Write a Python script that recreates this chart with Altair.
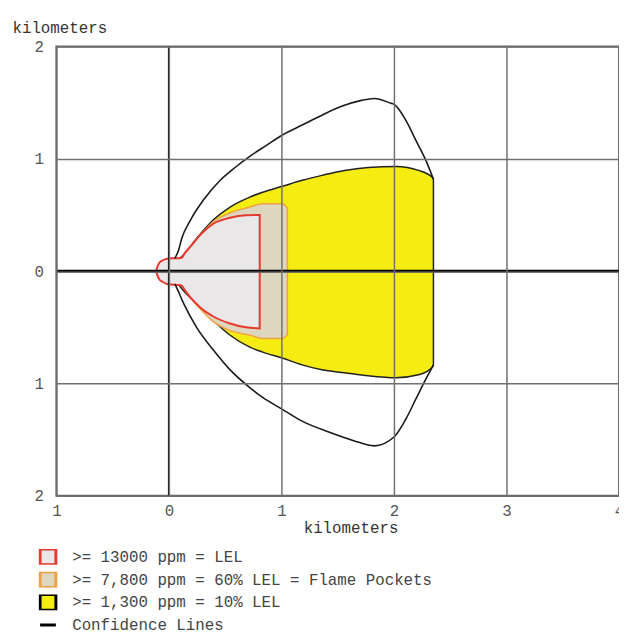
import altair as alt
import pandas as pd

FONT = "Liberation Mono"

# ---- threat zone outlines (km) ----
red_x   = [-0.114, -0.088, -0.053, -0.018, 0.018, 0.07, 0.114, 0.14, 0.193, 0.281, 0.395, 0.544, 0.684, 0.807]
red_top = [0.0, 0.07, 0.097, 0.11, 0.114, 0.114, 0.119, 0.158, 0.22, 0.325, 0.422, 0.475, 0.497, 0.50]
red_bot = [0.0, -0.07, -0.097, -0.114, -0.119, -0.123, -0.13, -0.167, -0.237, -0.325, -0.404, -0.466, -0.50, -0.51]

tan_x   = [0.114, 0.246, 0.395, 0.544, 0.719, 0.833, 1.0, 1.04, 1.053]
tan_top = [0.12, 0.28, 0.44, 0.52, 0.57, 0.60, 0.60, 0.58, 0.56]
tan_bot = [-0.13, -0.30, -0.45, -0.53, -0.57, -0.60, -0.60, -0.58, -0.56]

yel_x   = [0.088, 0.132, 0.246, 0.395, 0.544, 0.719, 0.833, 1.009, 1.184, 1.36, 1.561, 1.772, 2.018, 2.219, 2.342, 2.351]
yel_top = [0.105, 0.149, 0.29, 0.457, 0.571, 0.659, 0.703, 0.756, 0.809, 0.853, 0.897, 0.923, 0.932, 0.897, 0.835, 0.818]
yel_bot = [-0.123, -0.176, -0.29, -0.44, -0.571, -0.677, -0.721, -0.774, -0.835, -0.879, -0.905, -0.932, -0.949, -0.923, -0.853, -0.835]

# confidence lines
conf_up_x = [0.053, 0.088, 0.114, 0.193, 0.307, 0.456, 0.588, 0.728, 0.86, 1.009, 1.184, 1.36, 1.535, 1.711, 1.825, 1.974, 2.0, 2.105, 2.193, 2.281, 2.351]
conf_up_y = [0.114, 0.193, 0.29, 0.457, 0.633, 0.809, 0.923, 1.029, 1.116, 1.213, 1.301, 1.389, 1.468, 1.521, 1.538, 1.495, 1.486, 1.345, 1.169, 0.993, 0.818]
conf_lo_x = [0.053, 0.07, 0.132, 0.246, 0.395, 0.544, 0.719, 0.833, 1.009, 1.184, 1.421, 1.649, 1.825, 2.0, 2.105, 2.193, 2.281, 2.351]
conf_lo_y = [-0.114, -0.149, -0.29, -0.501, -0.703, -0.879, -1.037, -1.125, -1.231, -1.336, -1.433, -1.512, -1.556, -1.477, -1.319, -1.143, -0.967, -0.835]

x_ticks = [-1, 0, 1, 2, 3, 4]
y_ticks = [-2, -1, 0, 1, 2]

legend_labels = [">= 13000 ppm = LEL",
                 ">= 7,800 ppm = 60% LEL = Flame Pockets",
                 ">= 1,300 ppm = 10% LEL",
                 "Confidence Lines"]
legend_fill = ["#e9e7e8", "#ddd7bf", "#f5ec12", "#000000"]
legend_stroke = ["#e8392f", "#f0a040", "#000000", "#000000"]
legend_shape = ["square", "square", "square", "stroke"]

# ---- encodings ----
x_scale = alt.Scale(domain=[-1, 4], nice=False, zero=False)
y_scale = alt.Scale(domain=[-2, 2], nice=False, zero=False)

x_axis = alt.Axis(values=x_ticks, labelExpr="abs(datum.value)", ticks=False, domain=False,
                  grid=True, gridColor="#707070", gridWidth=1.5, zindex=1,
                  labelFont=FONT, labelFontSize=16, labelColor="#555555", labelPadding=7,
                  labelFlush=False,
                  titleFont=FONT, titleFontSize=16, titleFontWeight="normal", titleColor="#333333",
                  titleX=298, titleY=32, titleBaseline="middle", titleAlign="center")
y_axis = alt.Axis(values=y_ticks, labelExpr="abs(datum.value)", ticks=False, domain=False,
                  grid=True, gridColor="#707070", gridWidth=1.5, zindex=1,
                  labelFont=FONT, labelFontSize=16, labelColor="#555555", labelPadding=13,
                  labelFlush=False,
                  titleFont=FONT, titleFontSize=16, titleFontWeight="normal", titleColor="#333333",
                  titleAngle=0, titleX=-45, titleY=-19, titleAlign="left", titleBaseline="middle")


def X(field):
    return alt.X(field, type="quantitative", scale=x_scale, axis=x_axis, title="kilometers")


def Y(field):
    return alt.Y(field, type="quantitative", scale=y_scale, axis=y_axis, title="kilometers")


def zone(xs, top, bot, fill, stroke, sw):
    df = pd.DataFrame({"x": xs, "top": top, "bot": bot})
    return alt.Chart(df).mark_area(fill=fill, stroke=stroke, strokeWidth=sw, opacity=1,
                                   interpolate="monotone").encode(
        x=X("x"), y=Y("top"), y2="bot")


yellow = zone(yel_x, yel_top, yel_bot, "#f5ec12", "#222222", 1.5)
tan = zone(tan_x, tan_top, tan_bot, "#ddd7bf", "#f0a040", 1.5)
red = zone(red_x, red_top, red_bot, "#e9e7e8", "#e8392f", 2)

hzero = alt.Chart(pd.DataFrame({"v": [0]})).mark_rule(color="#000000", strokeWidth=3).encode(y=Y("v"))
vzero = alt.Chart(pd.DataFrame({"v": [0]})).mark_rule(color="#000000", strokeWidth=2).encode(x=X("v"))

conf_df = pd.DataFrame({
    "x": conf_up_x + conf_lo_x,
    "y": conf_up_y + conf_lo_y,
    "side": ["up"] * len(conf_up_x) + ["lo"] * len(conf_lo_x),
    "i": list(range(len(conf_up_x))) + list(range(len(conf_lo_x))),
})
conf = alt.Chart(conf_df).mark_line(color="#1a1a1a", strokeWidth=1.6, interpolate="monotone").encode(
    x=X("x"), y=Y("y"), detail="side:N", order="i:Q")

leg = alt.Legend(title=None, orient="none", legendX=-18, legendY=509,
                 labelFont=FONT, labelFontSize=16, labelColor="#444444", labelOffset=15,
                 symbolSize=256, symbolStrokeWidth=3, rowPadding=7, clipHeight=16,
                 labelLimit=600)
leg_df = pd.DataFrame({"label": legend_labels, "x": [None] * 4, "y": [None] * 4})
legend_layer = alt.Chart(leg_df).mark_point(filled=True, opacity=1).encode(
    x=X("x"), y=Y("y"),
    fill=alt.Fill("label:N", scale=alt.Scale(domain=legend_labels, range=legend_fill), legend=leg),
    stroke=alt.Stroke("label:N", scale=alt.Scale(domain=legend_labels, range=legend_stroke), legend=leg),
    shape=alt.Shape("label:N", scale=alt.Scale(domain=legend_labels, range=legend_shape), legend=leg),
)

chart = alt.layer(yellow, tan, red, hzero, vzero, conf, legend_layer).properties(
    width=570, height=455,
    autosize=alt.AutoSizeParams(type="none"),
    padding={"left": 49, "top": 35, "right": 0, "bottom": 134},
    background="white",
).configure_view(stroke="#666666", strokeWidth=2)

chart.save("out.html", embed_options={"renderer": "svg", "actions": False})
